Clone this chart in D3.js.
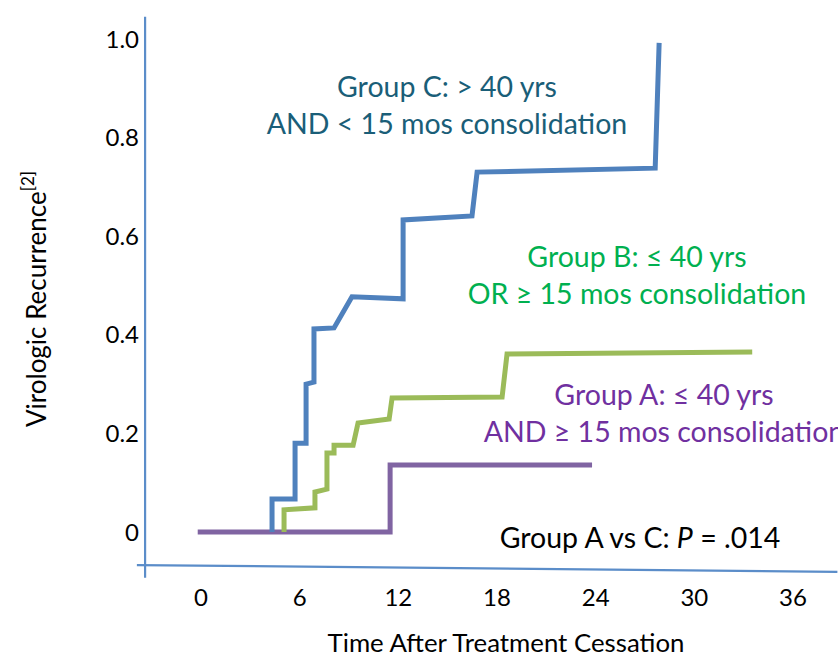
<!DOCTYPE html>
<html><head><meta charset="utf-8">
<script src="https://cdn.jsdelivr.net/npm/d3@7"></script>
<style>body{margin:0;background:#fff}svg{display:block}</style>
</head><body>
<script>
// Data: [months, recurrence]
const groupC = [[4.32,0],[4.32,0.067],[5.72,0.067],[5.72,0.18],[6.39,0.18],[6.39,0.30],[6.87,0.304],[6.87,0.412],[8.09,0.414],[9.18,0.477],[12.29,0.473],[12.29,0.633],[16.48,0.641],[16.79,0.730],[27.62,0.738],[27.86,0.992]];
const groupB = [[5.05,0],[5.05,0.045],[6.93,0.049],[6.93,0.081],[7.66,0.087],[7.66,0.16],[8.09,0.16],[8.09,0.176],[9.25,0.176],[9.55,0.221],[11.44,0.229],[11.62,0.272],[18.31,0.274],[18.61,0.361],[33.52,0.365]];
const groupA = [[-0.2,0],[11.5,0],[11.5,0.136],[23.78,0.136]];
const xTicks = [0,6,12,18,24,30,36];
const yTicks = [0,0.2,0.4,0.6,0.8,1.0];
const yTickLabels = ["0","0.2","0.4","0.6","0.8","1.0"];

const W=838,H=656;
const svg=d3.select("body").append("svg").attr("width",W).attr("height",H);
const x=d3.scaleLinear().domain([0,36]).range([201,793]);
const y=d3.scaleLinear().domain([0,1]).range([532,39]);
const font="Lato, 'Open Sans', sans-serif";

// axes lines
const axisCol="#5b8dc9";
svg.append("line").attr("x1",x(-3.4)).attr("x2",x(-3.4)).attr("y1",y(1.045)).attr("y2",y(-0.093))
  .attr("stroke",axisCol).attr("stroke-width",2.2);
svg.append("line").attr("x1",x(-3.9)).attr("x2",x(38.7)).attr("y1",y(-0.067)).attr("y2",y(-0.081))
  .attr("stroke",axisCol).attr("stroke-width",2.2);

// tick labels
svg.append("g").selectAll("text").data(yTicks).join("text")
  .attr("x",139).attr("y",d=>y(d)).attr("dy","0.36em").attr("text-anchor","end")
  .attr("font-family",font).attr("font-size",24).attr("fill","#000")
  .text((d,i)=>yTickLabels[i]);
svg.append("g").selectAll("text").data(xTicks).join("text")
  .attr("x",d=>x(d)).attr("y",597).attr("dy","0.36em").attr("text-anchor","middle")
  .attr("font-family",font).attr("font-size",24).attr("fill","#000")
  .text(d=>d);

// titles
svg.append("text").attr("x",506).attr("y",652).attr("text-anchor","middle")
  .attr("font-family",font).attr("font-size",25.8).text("Time After Treatment Cessation");
const yt=svg.append("text").attr("transform","translate(37,299) rotate(-90)").attr("text-anchor","middle")
  .attr("dy","0.36em").attr("font-family",font).attr("font-size",26);
yt.append("tspan").text("Virologic Recurrence");
yt.append("tspan").attr("font-size",17).attr("dy","-0.7em").text("[2]");

// lines
const line=d3.line().x(d=>x(d[0])).y(d=>y(d[1]));
[[groupA,"#8064a2"],[groupB,"#9bbb59"],[groupC,"#4f81bd"]].forEach(([d,c])=>{
  svg.append("path").datum(d).attr("d",line).attr("fill","none").attr("stroke",c)
    .attr("stroke-width",5).attr("stroke-linejoin","miter");
});

// annotations
function label(lines,cx,cy,col,size){
  lines.forEach((t,i)=>{
    svg.append("text").attr("x",cx).attr("y",cy+i*37).attr("dy","0.36em").attr("text-anchor","middle")
      .attr("font-family",font).attr("font-size",size).attr("fill",col).text(t);
  });
}
label(["Group C: > 40 yrs","AND < 15 mos consolidation"],447,87,"#1a5e78",28.5);
label(["Group B: \u2264 40 yrs","OR \u2265 15 mos consolidation"],637,257,"#00b050",28.5);
label(["Group A: \u2264 40 yrs","AND \u2265 15 mos consolidation"],664,395,"#7030a0",28.5);
const p=svg.append("text").attr("x",640).attr("y",538).attr("dy","0.36em").attr("text-anchor","middle")
  .attr("font-family",font).attr("font-size",28.5).attr("fill","#000");
p.append("tspan").text("Group A vs C: ");
p.append("tspan").attr("font-style","italic").text("P");
p.append("tspan").text(" = .014");
</script>
</body></html>
